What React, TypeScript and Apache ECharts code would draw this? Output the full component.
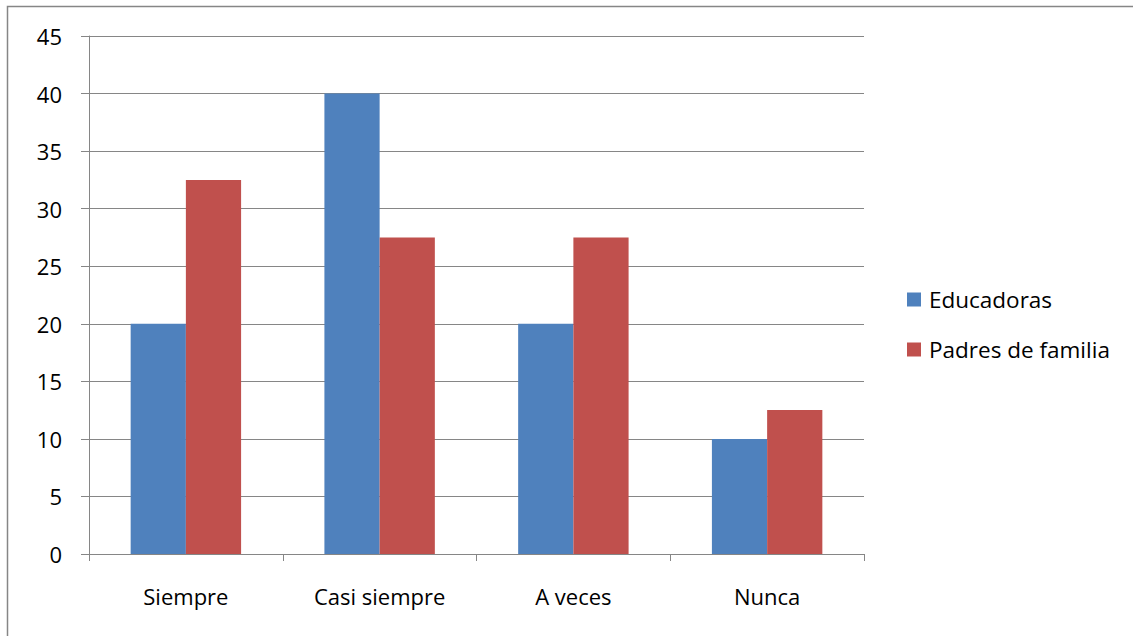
import React, { useEffect, useRef } from "react";
import * as echarts from "echarts";

const categories = ["Siempre", "Casi siempre", "A veces", "Nunca"];
const educadoras = [20, 40, 20, 10];
const padres = [32.5, 27.5, 27.5, 12.5];
const seriesNames = ["Educadoras", "Padres de familia"];

const FONT = "'Open Sans', 'Noto Sans', sans-serif";

export default function App() {
  const ref = useRef<HTMLDivElement>(null);
  useEffect(() => {
    const chart = echarts.init(ref.current!, null, { renderer: "svg" });
    chart.setOption({
      animation: false,
      backgroundColor: "#ffffff",
      textStyle: { fontFamily: FONT },
      graphic: [
        {
          type: "rect",
          shape: { x: 7.5, y: 6.5, width: 1200, height: 700 },
          style: { fill: "none", stroke: "#868686", lineWidth: 1.5 },
          silent: true,
        },
      ],
      grid: { left: 89, right: 269, top: 36, bottom: 82, containLabel: false },
      legend: {
        orient: "vertical",
        left: 902,
        top: 283,
        itemWidth: 14,
        itemHeight: 14,
        itemGap: 27,
        icon: "rect",
        textStyle: {
          fontSize: 22.5,
          lineHeight: 22,
          color: "#000",
          fontFamily: FONT,
          padding: [0, 0, 0, 3],
        },
        data: seriesNames,
      },
      xAxis: {
        type: "category",
        data: categories,
        boundaryGap: true,
        axisLine: { lineStyle: { color: "#868686", width: 1 } },
        axisTick: { show: true, length: 7, lineStyle: { color: "#868686" } },
        axisLabel: { fontSize: 22, color: "#000", margin: 31, fontFamily: FONT },
      },
      yAxis: {
        type: "value",
        min: 0,
        max: 45,
        interval: 5,
        axisLine: { show: true, lineStyle: { color: "#868686" } },
        axisTick: { show: true, length: 8, lineStyle: { color: "#868686" } },
        axisLabel: { fontSize: 22, color: "#000", margin: 27, fontFamily: FONT },
        splitLine: { lineStyle: { color: "#868686", width: 1 } },
      },
      series: [
        {
          name: seriesNames[0],
          type: "bar",
          data: educadoras,
          itemStyle: { color: "#4F81BD" },
          barGap: "0%",
          barCategoryGap: "43%",
        },
        {
          name: seriesNames[1],
          type: "bar",
          data: padres,
          itemStyle: { color: "#C0504D" },
          barGap: "0%",
          barCategoryGap: "43%",
        },
      ],
    });
    return () => chart.dispose();
  }, []);
  return (
    <div
      ref={ref}
      style={{ position: "fixed", left: 0, top: 0, width: 1133, height: 636 }}
    />
  );
}
